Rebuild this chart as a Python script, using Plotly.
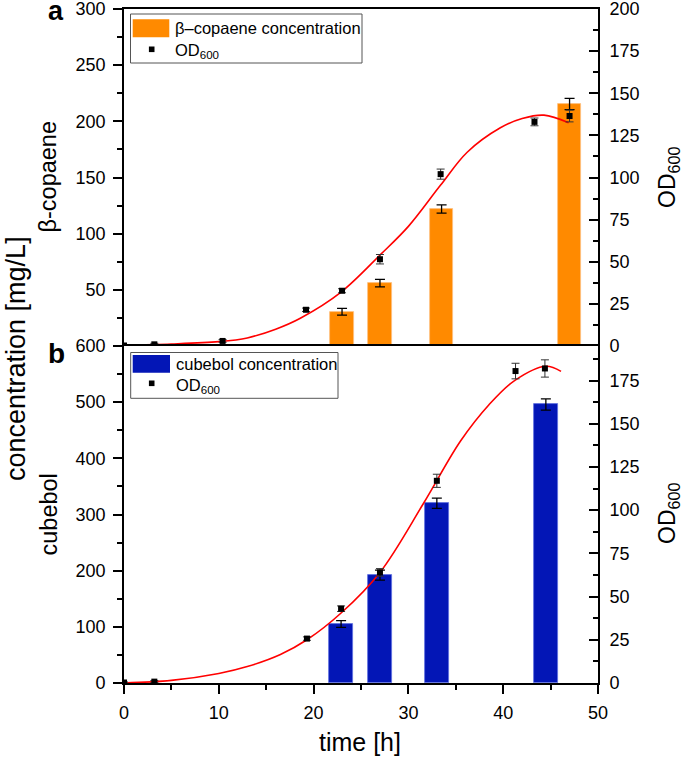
import plotly.graph_objects as go
from plotly.subplots import make_subplots

# ---------------- data ----------------
# panel a : beta-copaene
cop_time = [23.0, 27.0, 33.5, 47.0]
cop_conc = [30.5, 56.0, 122.0, 215.5]
cop_err = [3.0, 3.3, 3.7, 5.0]

od_a_time = [0.0, 3.2, 10.4, 19.2, 23.0, 27.0, 33.4, 43.3, 47.0]
od_a = [0.3, 1.0, 3.0, 21.5, 32.8, 51.5, 102.0, 133.0, 136.5]
od_a_err = [0.3, 0.6, 0.8, 1.0, 1.2, 2.8, 3.0, 2.3, 3.5]

fit_a_time = [0.0, 5.0, 10.0, 13.0, 16.0, 18.6, 22.9, 27.1, 30.0, 33.4, 36.2, 39.7, 42.0, 44.3, 46.9]
fit_a = [0.5, 1.2, 2.6, 4.8, 10.0, 16.5, 32.0, 54.5, 71.0, 95.5, 115.0, 129.5, 135.0, 137.0, 132.5]

# panel b : cubebol
cub_time = [22.9, 27.0, 33.0, 44.5]
cub_conc = [105.0, 192.0, 320.0, 496.0]
cub_err = [6.0, 9.0, 9.0, 10.0]

od_b_time = [0.0, 3.2, 19.3, 22.9, 27.0, 33.0, 41.3, 44.4]
od_b = [0.3, 0.8, 25.7, 43.0, 64.0, 117.0, 180.5, 182.0]
od_b_err = [0.3, 0.6, 1.0, 1.6, 2.2, 3.8, 4.5, 5.0]

fit_b_time = [0.0, 5.0, 10.0, 13.0, 16.5, 19.3, 22.9, 27.0, 31.6, 35.5, 38.5, 41.2, 44.5, 46.1]
fit_b = [0.0, 1.5, 5.5, 9.5, 16.5, 25.0, 40.5, 64.0, 104.0, 140.0, 161.0, 175.0, 183.3, 180.3]

# ---------------- style ----------------
W, H = 685, 758
L, R, T, B = 124, 87, 9, 75
PW, PH = W - L - R, H - T - B
FONT = "Liberation Sans, Arial, sans-serif"
ORANGE = "#FF8A00"
BLUE = "#0316B6"


def fx(px):
    return (px - L) / PW


def fy(py):
    return (H - B - py) / PH


fig = make_subplots(rows=2, cols=1, shared_xaxes=True, vertical_spacing=0,
                    specs=[[{"secondary_y": True}], [{"secondary_y": True}]])

# panel a
fig.add_trace(go.Bar(x=cop_time, y=cop_conc, width=2.45, marker_color=ORANGE,
                     marker_line=dict(color="#FFC080", width=0.8),
                     error_y=dict(type="data", array=cop_err, color="black", thickness=1.3, width=5),
                     showlegend=False), row=1, col=1, secondary_y=False)
fig.add_trace(go.Scatter(x=fit_a_time, y=fit_a, mode="lines", line=dict(color="#FF0000", width=1.6, shape="spline"),
                         showlegend=False), row=1, col=1, secondary_y=True)
fig.add_trace(go.Scatter(x=od_a_time, y=od_a, mode="markers",
                         marker=dict(symbol="square", size=6, color="black"),
                         error_y=dict(type="data", array=od_a_err, color="#333", thickness=1, width=4),
                         showlegend=False), row=1, col=1, secondary_y=True)

# panel b
fig.add_trace(go.Bar(x=cub_time, y=cub_conc, width=2.6, marker_color=BLUE,
                     marker_line=dict(color="#6070E0", width=0.8),
                     error_y=dict(type="data", array=cub_err, color="black", thickness=1.3, width=5),
                     showlegend=False), row=2, col=1, secondary_y=False)
fig.add_trace(go.Scatter(x=fit_b_time, y=fit_b, mode="lines", line=dict(color="#FF0000", width=1.6, shape="spline"),
                         showlegend=False), row=2, col=1, secondary_y=True)
fig.add_trace(go.Scatter(x=od_b_time, y=od_b, mode="markers",
                         marker=dict(symbol="square", size=6, color="black"),
                         error_y=dict(type="data", array=od_b_err, color="#333", thickness=1, width=4),
                         showlegend=False), row=2, col=1, secondary_y=True)

tickfont = dict(family=FONT, size=18, color="black")
common = dict(showgrid=False, zeroline=False, showline=True, linecolor="black", linewidth=1.6,
              tickcolor="black", tickwidth=1.5, ticklen=9, tickfont=tickfont, automargin=False,
              ticklabeloverflow="allow")

fig.update_xaxes(range=[0, 50], **common)
fig.update_layout(
    xaxis=dict(domain=[0, 1], showticklabels=False, ticks="", side="top", mirror=False),
    xaxis2=dict(domain=[0, 1], ticks="outside", dtick=10, tick0=0, mirror=True, ticklabelstandoff=4,
                minor=dict(ticks="outside", dtick=5, ticklen=5, tickwidth=1.5, tickcolor="black")),
    yaxis=dict(domain=[0.5, 1], range=[0, 300], tickvals=[50, 100, 150, 200, 250, 300], ticks="outside",
               ticklabelstandoff=4,
               minor=dict(ticks="outside", dtick=25, ticklen=5, tickwidth=1.5, tickcolor="black"), **common),
    yaxis2=dict(range=[0, 200], dtick=25, tick0=0, ticks="inside", side="right", ticklabelstandoff=6,
                minor=dict(ticks="inside", dtick=12.5, ticklen=5, tickwidth=1.5, tickcolor="black"), **common),
    yaxis3=dict(domain=[0, 0.5], range=[0, 600], dtick=100, tick0=0, ticks="outside", ticklabelstandoff=4,
                minor=dict(ticks="outside", dtick=50, ticklen=5, tickwidth=1.5, tickcolor="black"), **common),
    yaxis4=dict(range=[0, 195], tickvals=[0, 25, 50, 75, 100, 125, 150, 175], ticks="inside", side="right",
                ticklabelstandoff=6,
                minor=dict(ticks="inside", dtick=12.5, ticklen=5, tickwidth=1.5, tickcolor="black"), **common),
)

fig.update_layout(width=W, height=H, margin=dict(l=L, r=R, t=T, b=B, autoexpand=False),
                  plot_bgcolor="white", paper_bgcolor="white", bargap=0,
                  font=dict(family=FONT, color="black"))

# ---------- manual legends ----------
shapes = []
annos = []


def legend(box, swatch, color, label, marker_xy, text_x, label_y, od_y):
    x0, y0, x1, y1 = box
    shapes.append(dict(type="rect", xref="paper", yref="paper", x0=fx(x0), x1=fx(x1), y0=fy(y1), y1=fy(y0),
                       line=dict(color="#555", width=1), fillcolor="white", layer="above"))
    sx0, sy0, sx1, sy1 = swatch
    shapes.append(dict(type="rect", xref="paper", yref="paper", x0=fx(sx0), x1=fx(sx1), y0=fy(sy1), y1=fy(sy0),
                       line=dict(width=0), fillcolor=color, layer="above"))
    mx, my = marker_xy
    shapes.append(dict(type="rect", xref="paper", yref="paper", x0=fx(mx - 2.8), x1=fx(mx + 2.8),
                       y0=fy(my + 2.8), y1=fy(my - 2.8), line=dict(width=0), fillcolor="black", layer="above"))
    annos.append(dict(text=label, xref="paper", yref="paper", x=fx(text_x), y=fy(label_y), xanchor="left",
                      yanchor="middle", showarrow=False, font=dict(family=FONT, size=16.5, color="black")))
    annos.append(dict(text="OD<sub>600</sub>", xref="paper", yref="paper", x=fx(text_x), y=fy(od_y),
                      xanchor="left", yanchor="middle", showarrow=False,
                      font=dict(family=FONT, size=16.5, color="black")))


legend((130.5, 14, 362, 63), (132.7, 19.3, 169.3, 37.3), ORANGE, "β–copaene concentration",
       (151.7, 49.3), 173, 28.5, 51)
legend((130.7, 352.5, 338, 398.3), (132.7, 355, 170, 372.7), BLUE, "cubebol concentration",
       (151.7, 383.3), 174, 364, 385.5)


def label(text, px, py, size, angle=0, bold=False):
    annos.append(dict(text=("<b>%s</b>" % text) if bold else text, xref="paper", yref="paper",
                      x=fx(px), y=fy(py), xanchor="center", yanchor="middle", showarrow=False,
                      textangle=angle, font=dict(family=FONT, size=size, color="black")))


label("concentration [mg/L]", 16, 359, 27, -90)
label("β-copaene", 47.5, 177, 23.5, -90)
label("cubebol", 48.5, 515, 23.5, -90)
label("OD<sub>600</sub>", 668, 178, 23, -90)
label("OD<sub>600</sub>", 668, 514, 23, -90)
label("time [h]", 360, 742, 25)
label("a", 55.5, 11, 27, bold=True)
label("b", 56, 353, 28, bold=True)

fig.update_layout(shapes=shapes, annotations=annos)
fig.write_html("out.html", config={"displayModeBar": False},
               post_script="document.body.style.margin='0px';document.body.style.overflow='hidden';")
